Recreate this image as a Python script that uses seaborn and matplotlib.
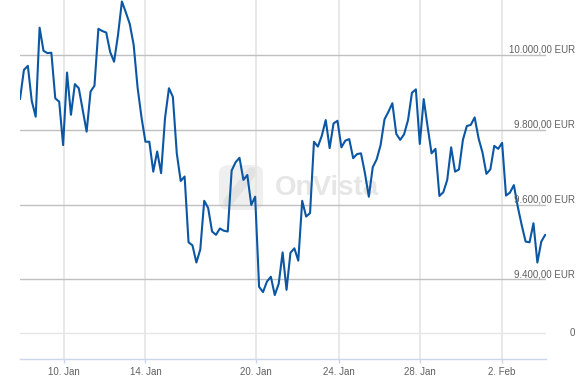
import matplotlib
matplotlib.use("Agg")
import matplotlib.pyplot as plt
import matplotlib.transforms as mtransforms
from matplotlib.patches import FancyBboxPatch
import seaborn as sns
import pandas as pd

# ---- data ----
prices = [
    9882, 9960, 9971, 9877, 9835, 10073, 10011, 10005, 10006, 9884,
    9875, 9759, 9953, 9840, 9922, 9911, 9853, 9795, 9902, 9918,
    10070, 10064, 10060, 10008, 9982, 10053, 10143, 10114, 10083, 10027,
    9913, 9833, 9768, 9768, 9688, 9742, 9684, 9831, 9911, 9888,
    9737, 9663, 9675, 9499, 9491, 9445, 9480, 9610, 9591, 9528,
    9519, 9536, 9530, 9528, 9691, 9713, 9725, 9666, 9679, 9599,
    9621, 9380, 9366, 9394, 9407, 9358, 9388, 9472, 9372, 9471,
    9483, 9450, 9610, 9568, 9577, 9768, 9755, 9784, 9826, 9751,
    9817, 9824, 9753, 9771, 9775, 9724, 9735, 9737, 9684, 9621,
    9700, 9721, 9759, 9828, 9848, 9871, 9789, 9773, 9788, 9826,
    9899, 9908, 9762, 9882, 9808, 9737, 9749, 9623, 9633, 9666,
    9753, 9688, 9694, 9773, 9810, 9813, 9833, 9777, 9739, 9682,
    9694, 9757, 9749, 9765, 9624, 9632, 9652, 9594, 9545, 9501,
    9499, 9550, 9445, 9501, 9519,
]
x_tick_pos = [11.3, 32.0, 60.1, 81.4, 102.0, 123.0]
x_tick_labels = ["10. Jan", "14. Jan", "20. Jan", "24. Jan", "28. Jan", "2. Feb"]
y_price_ticks = [9400, 9600, 9800, 10000]
y_price_labels = ["9.400,00 EUR", "9.600,00 EUR", "9.800,00 EUR", "10.000,00 EUR"]
y_zero_tick = 9255.8
y_zero_label = "0"

df = pd.DataFrame({"idx": range(len(prices)), "price": prices})

sns.set_style("white")
plt.rcParams["font.family"] = ["Liberation Sans", "DejaVu Sans"]

fig = plt.figure(figsize=(5.79, 3.83), dpi=100)
W, H = 579, 383
ax = fig.add_axes([20 / W, 24 / H, (546 - 20) / W, 359 / H])

# watermark (drawn inside the axes, beneath the line)
icon = FancyBboxPatch((219 / W, 1 - 210 / H), 44 / W, 45 / H,
                      boxstyle="round,pad=0,rounding_size=0.02",
                      transform=fig.transFigure, facecolor="#efefef",
                      edgecolor="none", zorder=0.2, clip_on=False)
ax.add_patch(icon)
ax.add_line(plt.Line2D([228 / W, 252 / W], [1 - 202 / H, 1 - 172 / H],
                       transform=fig.transFigure, color="#e2e2e2",
                       lw=7, solid_capstyle="round", zorder=0.3, clip_on=False))
ax.text(275 / W, 1 - 188 / H, "OnVista", transform=fig.transFigure,
        fontsize=20, color="#e6e6e6", ha="left", va="center",
        fontweight="bold", zorder=0.3)

sns.lineplot(data=df, x="idx", y="price", ax=ax, color="#0b57a4",
             linewidth=1.5, zorder=5)

ax.set_xlim(0, 134.2)
ax.set_ylim(9187, 10147)

ax.set_xticks(x_tick_pos)
ax.set_xticklabels(x_tick_labels)
ax.set_yticks([y_zero_tick] + y_price_ticks)
ax.set_yticklabels([])
ax.set_xlabel("")
ax.set_ylabel("")

ax.set_axisbelow(True)
ax.grid(True, axis="both")
for gl in ax.xaxis.get_gridlines():
    gl.set_color("#e6e6e6")
    gl.set_linewidth(1.3)
ygl = ax.yaxis.get_gridlines()
for i, gl in enumerate(ygl):
    gl.set_linewidth(1.0)
    gl.set_color("#e6e6e6" if i == 0 else "#c0c0c0")

for s in ["top", "left", "right"]:
    ax.spines[s].set_visible(False)
ax.spines["bottom"].set_color("#ccd6eb")
ax.spines["bottom"].set_linewidth(1.0)

ax.tick_params(axis="x", length=3, width=1, color="#ccd6eb", pad=3,
               labelsize=7, labelcolor="#606060", direction="out", bottom=True)
ax.tick_params(axis="y", length=0)

# right side price labels
trans = mtransforms.blended_transform_factory(fig.transFigure, ax.transData)
trans_up = mtransforms.offset_copy(trans, fig=fig, x=0, y=2, units="dots")
for v, lab in zip(y_price_ticks, y_price_labels):
    ax.text(575 / W, v, lab, transform=trans_up, ha="right", va="baseline",
            fontsize=7, color="#606060", clip_on=False, zorder=6)
ax.text(575 / W, y_zero_tick, y_zero_label, transform=trans, ha="right",
        va="center", fontsize=7, color="#606060", clip_on=False, zorder=6)

fig.savefig("out.png", dpi=100)
